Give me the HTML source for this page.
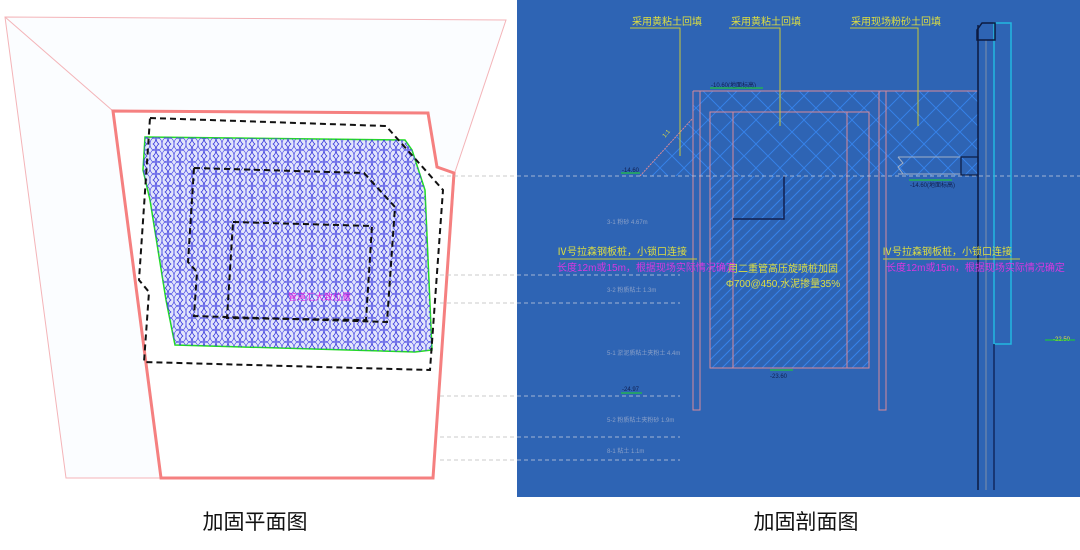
<!DOCTYPE html>
<html><head><meta charset="utf-8"><style>
html,body{margin:0;padding:0;background:#fff;width:1080px;height:550px;overflow:hidden}
svg{display:block}
text{font-family:"Liberation Sans","Noto Sans CJK SC",sans-serif}
</style></head><body>
<svg width="1080" height="550" viewBox="0 0 1080 550" xmlns="http://www.w3.org/2000/svg">
<defs>
<pattern id="circ" width="12" height="12" patternUnits="userSpaceOnUse">
<ellipse cx="6" cy="6" rx="6" ry="7" fill="none" stroke="#3434dc" stroke-width="0.8"/>
<ellipse cx="0" cy="0" rx="6" ry="7" fill="none" stroke="#4848e4" stroke-width="0.7"/>
<ellipse cx="12" cy="12" rx="6" ry="7" fill="none" stroke="#4848e4" stroke-width="0.7"/>
<ellipse cx="12" cy="0" rx="6" ry="7" fill="none" stroke="#4848e4" stroke-width="0.7"/>
<ellipse cx="0" cy="12" rx="6" ry="7" fill="none" stroke="#4848e4" stroke-width="0.7"/>
</pattern>
<pattern id="herr" width="24" height="24" patternUnits="userSpaceOnUse">
<path d="M0 12 L12 0 M12 24 L24 12 M0 12 L12 24 M12 0 L24 12" stroke="#3682ea" stroke-width="0.9" fill="none"/>
</pattern>
<pattern id="diag" width="10" height="10" patternUnits="userSpaceOnUse">
<path d="M0 10 L10 0 M-2 2 L2 -2 M8 12 L12 8" stroke="#3682ea" stroke-width="1"/>
</pattern>
</defs>
<rect width="1080" height="550" fill="#fff"/>
<polygon points="5,17 506,20 455,172 433,478 66,478" fill="#fbfdff" stroke="#f4b4b8" stroke-width="1"/>
<line x1="5" y1="17" x2="113" y2="111" stroke="#f4b4b8" stroke-width="1"/>
<polygon points="113,111 428,113 437,167 454,173 433,478 161,478" fill="#fff" stroke="#f58080" stroke-width="3"/>
<polygon points="145,137 405,140 412,150 425,190 432,350 415,352 175,345 166,300 150,200 143,170" fill="#e2e5fb" stroke="#22dd22" stroke-width="1.5"/>
<polygon points="145,137 405,140 412,150 425,190 432,350 415,352 175,345 166,300 150,200 143,170" fill="url(#circ)"/>
<polyline points="150,118 386,126 443,190 430,370 144,362 149,292 139,280 150,118" fill="none" stroke="#111" stroke-width="2" stroke-dasharray="6,4"/>
<polyline points="194,168 364,173 395,207 387,322 194,316 197,272 188,262 194,168" fill="none" stroke="#111" stroke-width="2" stroke-dasharray="6,4"/>
<polyline points="233,222 372,226 366,320 227,318 233,222" fill="none" stroke="#111" stroke-width="2" stroke-dasharray="6,4"/>
<text x="288" y="300" font-size="9" fill="#e020e0">管道汇大致位置</text>
<g stroke="#bbb" stroke-dasharray="4,3" stroke-width="0.8">
<line x1="440" y1="176" x2="517" y2="176"/><line x1="440" y1="275" x2="517" y2="275"/>
<line x1="440" y1="303" x2="517" y2="303"/><line x1="440" y1="396" x2="517" y2="396"/>
<line x1="440" y1="437" x2="517" y2="437"/><line x1="440" y1="460" x2="517" y2="460"/>
</g>
<rect x="517" y="0" width="563" height="497" fill="#2e64b4"/>
<polygon points="693,91 978,91 978,176 640,176 693,118" fill="url(#herr)"/>
<rect x="710" y="176" width="159" height="192" fill="url(#diag)"/>
<g fill="none" stroke="#d88a9a" stroke-width="1">
<line x1="693" y1="91" x2="978" y2="91"/>
<path d="M693 91 V410 H700 V91"/>
<path d="M879 91 V410 H886 V91"/>
<rect x="710" y="112" width="159" height="256"/>
<line x1="733" y1="112" x2="733" y2="368"/>
<line x1="847" y1="112" x2="847" y2="368"/>
<line x1="640" y1="176" x2="693" y2="118" stroke-dasharray="2,1"/>
</g>
<path d="M784 176 V219 H733" stroke="#102050" stroke-width="1.5" fill="none"/>
<line x1="517" y1="176" x2="1080" y2="176" stroke="#c8d0e0" stroke-dasharray="4,3" stroke-width="0.8"/>
<g stroke="#c8d0e0" stroke-dasharray="4,3" stroke-width="0.8">
<line x1="517" y1="275" x2="680" y2="275"/><line x1="517" y1="303" x2="680" y2="303"/>
<line x1="517" y1="396" x2="680" y2="396"/><line x1="517" y1="437" x2="680" y2="437"/>
<line x1="517" y1="460" x2="680" y2="460"/>
</g>
<line x1="978" y1="25" x2="978" y2="490" stroke="#0c1a40" stroke-width="1.5"/>
<line x1="986" y1="40" x2="986" y2="490" stroke="#8090a8" stroke-width="1"/>
<path d="M994 23 H1011 V344 H994 Z" fill="none" stroke="#22b8e0" stroke-width="1.5"/>
<line x1="994" y1="344" x2="994" y2="490" stroke="#102860" stroke-width="1.5"/>
<path d="M982 23 H995 V40 H977 V30 Z" fill="none" stroke="#0c1a40" stroke-width="1.5"/>
<path d="M898 157 H961 M898 174 H961 M898 157 L903 163 L898 167 L903 174" stroke="#a0b0c8" fill="none" stroke-width="1"/>
<rect x="961" y="157" width="17" height="18" fill="none" stroke="#0c1a40" stroke-width="1.2"/>
<g stroke="#c8c838" stroke-width="1" fill="none">
<path d="M630 28 H680 V156"/><path d="M729 28 H780 V126"/><path d="M850 28 H918 V126"/>
<line x1="560" y1="259" x2="697" y2="259"/><line x1="883" y1="259" x2="1020" y2="259"/>
</g>
<g font-size="10" fill="#dede40">
<text x="632" y="25">采用黄粘土回填</text>
<text x="731" y="25">采用黄粘土回填</text>
<text x="851" y="25">采用现场粉砂土回填</text>
<text x="687" y="255" text-anchor="end">Ⅳ号拉森钢板桩，小锁口连接</text>
<text x="1012" y="255" text-anchor="end">Ⅳ号拉森钢板桩，小锁口连接</text>
<text x="783" y="272" text-anchor="middle">用二重管高压旋喷桩加固</text>
<text x="783" y="287" text-anchor="middle">Φ700@450,水泥掺量35%</text>
<text x="665" y="138" font-size="6" transform="rotate(-50 665 138)">1:1</text>
</g>
<g font-size="10" fill="#d838e0">
<text x="557" y="271">长度12m或15m，根据现场实际情况确定</text>
<text x="886" y="271">长度12m或15m，根据现场实际情况确定</text>
</g>
<g font-size="6" fill="#8aa0c8">
<text x="607" y="224">3-1 粉砂 4.67m</text>
<text x="607" y="292">3-2 粉质粘土 1.3m</text>
<text x="607" y="355">5-1 淤泥质粘土夹粉土 4.4m</text>
<text x="607" y="422">5-2 粉质粘土夹粉砂 1.9m</text>
<text x="607" y="453">8-1 粘土 1.1m</text>
</g>
<g font-size="6" fill="#102050">
<text x="622" y="172">-14.60</text><text x="711" y="87">-10.60(地面标高)</text>
<text x="910" y="187">-14.60(地面标高)</text><text x="770" y="378">-23.60</text>
<text x="622" y="391">-24.97</text><text x="1053" y="341" fill="#e0e040">-22.50</text>
</g>
<g stroke="#20c040" stroke-width="1.2" fill="none">
<line x1="621" y1="173" x2="640" y2="173"/><line x1="710" y1="88" x2="763" y2="88"/>
<line x1="909" y1="180" x2="952" y2="180"/><line x1="770" y1="370" x2="793" y2="370"/>
<line x1="621" y1="393" x2="642" y2="393"/><line x1="1045" y1="340" x2="1075" y2="340"/>
</g>
<text x="255" y="529" font-size="21" text-anchor="middle" fill="#111">加固平面图</text>
<text x="806" y="529" font-size="21" text-anchor="middle" fill="#111">加固剖面图</text>
</svg>
</body></html>
